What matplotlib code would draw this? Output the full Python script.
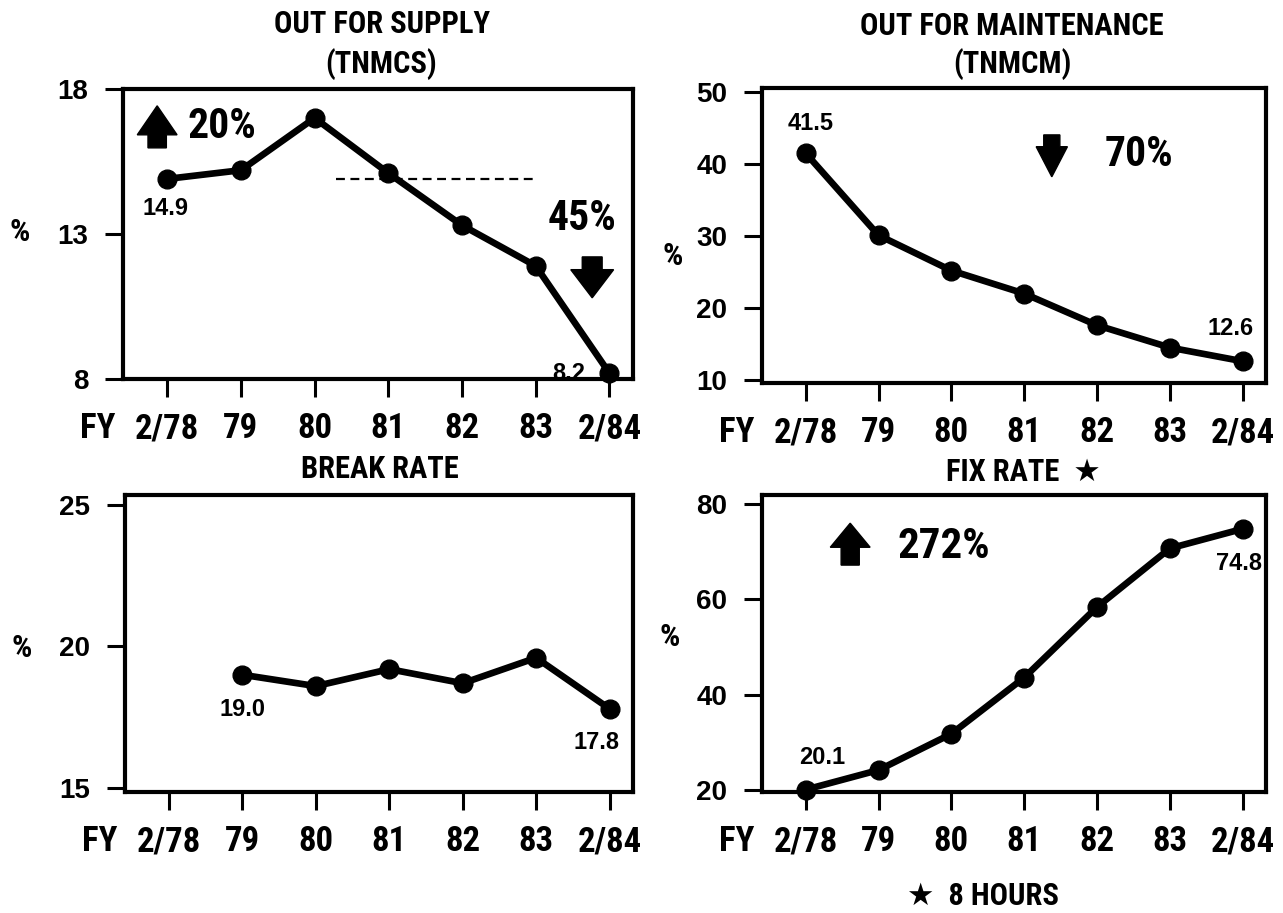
import matplotlib
matplotlib.use('Agg')
import matplotlib.pyplot as plt
from matplotlib.patches import FancyArrow
import numpy as np

# Dados dos quatro painéis
# ========================

ANOS = ['2/78', '79', '80', '81', '82', '83', '2/84']

SUPRIMENTO = [14.9, 15.2, 17.0, 15.1, 13.3, 11.9, 8.2]      # TNMCS
MANUTENCAO = [41.5, 30.1, 25.2, 22.0, 17.6, 14.5, 12.6]     # TNMCM
QUEBRA = [np.nan, 19.0, 18.6, 19.2, 18.7, 19.6, 17.8]       # break rate
CONSERTO = [20.1, 24.2, 31.8, 43.6, 58.4, 70.7, 74.8]       # fix rate (8 horas)

YT_SUPRIMENTO = [8, 13, 18]
YT_MANUTENCAO = [10, 20, 30, 40, 50]
YT_QUEBRA = [15, 20, 25]
YT_CONSERTO = [20, 40, 60, 80]

# Fontes: condensada para títulos e anos, normal para números
ESTREITA = ['Roboto Condensed', 'DejaVu Sans']
NORMAL = ['Liberation Sans', 'DejaVu Sans']

W, H = 1283, 913
plt.rcParams['font.weight'] = 'bold'


def caixa(x0, x1, y0, y1):
    """Converte a caixa em pixels para coordenadas da figura."""
    return [x0 / W, 1 - y1 / H, (x1 - x0) / W, (y1 - y0) / H]


def desenhar_painel(ax, valores, yticks, ylim):
    """
    Desenha a série com marcadores e formata os eixos.

    Parâmetros:
    ax : Axes
    valores : list
        Valores da série, um por ano.
    yticks : list
        Marcas do eixo Y.
    ylim : tuple
        Limites do eixo Y.
    """
    x = np.arange(len(ANOS))
    ax.plot(x, valores, color='black', lw=4.8, marker='o', ms=13.5,
            clip_on=False, zorder=3)
    ax.set_xlim(-0.6, 6.32)
    ax.set_ylim(*ylim)
    ax.set_xticks(x)
    ax.set_xticklabels(ANOS, fontfamily=ESTREITA, fontsize=25, fontweight='bold')
    ax.set_yticks(yticks)
    ax.set_yticklabels([str(v) for v in yticks], fontfamily=NORMAL,
                       fontsize=20, fontweight='bold')
    ax.tick_params(axis='x', direction='out', length=13, width=2.2, pad=11)
    ax.tick_params(axis='y', direction='out', length=13, width=2.2, pad=12)
    for s in ax.spines.values():
        s.set_linewidth(3)
    # "FY" antes do primeiro ano
    ax.annotate('FY', xy=(0, 0), xycoords=('data', 'axes fraction'),
                xytext=(-37, -24), textcoords='offset points',
                ha='right', va='top', fontfamily=ESTREITA, fontsize=25,
                fontweight='bold')


def rotulo(ax, i, valores, dx, dy):
    """Escreve o valor do ponto i ao lado do marcador."""
    ax.annotate(f'{valores[i]:.1f}', xy=(i, valores[i]), xytext=(dx, dy),
                textcoords='offset points', ha='center', va='center',
                fontfamily=NORMAL, fontsize=17, fontweight='bold')


def seta(ax, x, y, comprimento, cabeca, largura, haste):
    """Seta cheia em coordenadas do eixo (comprimento negativo aponta para baixo)."""
    ax.add_patch(FancyArrow(x, y, 0, comprimento, width=haste,
                            head_width=largura, head_length=cabeca,
                            length_includes_head=True, color='black',
                            transform=ax.transAxes, clip_on=False, zorder=4))


def percentual(ax, x, y, texto, tamanho=30):
    ax.text(x, y, texto, transform=ax.transAxes, ha='left', va='center',
            fontfamily=ESTREITA, fontsize=tamanho, fontweight='bold')


fig = plt.figure(figsize=(W / 100, H / 100), dpi=100)
fig.patch.set_facecolor('white')

ax1 = fig.add_axes(caixa(123, 633, 89, 379))
ax2 = fig.add_axes(caixa(762, 1266, 88, 383))
ax3 = fig.add_axes(caixa(125, 633, 495, 792))
ax4 = fig.add_axes(caixa(762, 1266, 495, 792))

# Fora por suprimento
desenhar_painel(ax1, SUPRIMENTO, YT_SUPRIMENTO, (8, 18))
ax1.plot([2.29, 5.0], [SUPRIMENTO[0]] * 2, color='black', lw=1.6,
         ls=(0, (4, 2.5)), zorder=1)
rotulo(ax1, 0, SUPRIMENTO, -1, -21)
rotulo(ax1, 6, SUPRIMENTO, -29.5, 0)
seta(ax1, 0.067, 0.797, 0.145, 0.10, 0.078, 0.036)
percentual(ax1, 0.127, 0.869, '20%')
seta(ax1, 0.92, 0.421, -0.141, 0.097, 0.084, 0.039)
percentual(ax1, 0.833, 0.552, '45%')

# Fora por manutenção
desenhar_painel(ax2, MANUTENCAO, YT_MANUTENCAO, (9.58, 50.56))
rotulo(ax2, 0, MANUTENCAO, 3.6, 21.6)
rotulo(ax2, 6, MANUTENCAO, -8.6, 23.8)
seta(ax2, 0.575, 0.841, -0.142, 0.102, 0.062, 0.032)
percentual(ax2, 0.679, 0.773, '70%')

# Taxa de quebra
desenhar_painel(ax3, QUEBRA, YT_QUEBRA, (14.86, 25.35))
rotulo(ax3, 1, QUEBRA, 0, -25)
rotulo(ax3, 6, QUEBRA, -9.4, -24.5)

# Taxa de conserto
desenhar_painel(ax4, CONSERTO, YT_CONSERTO, (19.6, 81.9))
rotulo(ax4, 0, CONSERTO, 12, 23)
rotulo(ax4, 6, CONSERTO, -3, -25)
seta(ax4, 0.175, 0.764, 0.141, 0.081, 0.079, 0.036)
percentual(ax4, 0.268, 0.825, '272%', 31)


# Títulos, unidade e nota
def texto_fig(x, y, s, tamanho=22, familia=ESTREITA):
    fig.text(x / W, 1 - y / H, s, ha='center', va='center',
             fontfamily=familia, fontsize=tamanho, fontweight='bold')


texto_fig(382, 24, 'OUT FOR SUPPLY')
texto_fig(381, 64, '(TNMCS)')
texto_fig(1012, 26, 'OUT FOR MAINTENANCE')
texto_fig(1012, 64, '(TNMCM)')
texto_fig(380, 469, 'BREAK RATE')
texto_fig(1023, 472, 'FIX RATE  \u2605')
texto_fig(983, 896, '\u2605  8 HOURS')

for (px, py) in [(20, 232), (673, 256), (22, 648), (670, 637)]:
    texto_fig(px, py, '%', 23)

fig.savefig('out.png', dpi=100, facecolor='white')
